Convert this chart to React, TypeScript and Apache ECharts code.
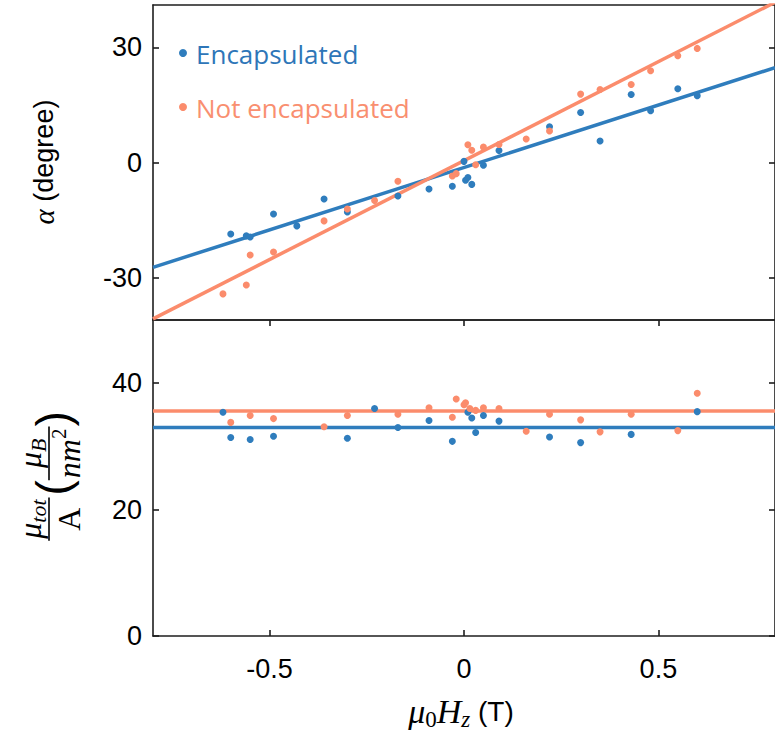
import React, { useEffect, useRef } from "react";
import * as echarts from "echarts";

// ---------- data ----------
const X_MIN = -0.8;
const X_MAX = 0.8;
const xTicks = [-0.5, 0, 0.5];
const alphaTicks = [-30, 0, 30];
const muTicks = [0, 20, 40];

// top panel: alpha (degree)
const encAlphaX = [-0.6, -0.56, -0.55, -0.49, -0.43, -0.36, -0.3, -0.17, -0.09, -0.03, 0.0, 0.004, 0.01, 0.02, 0.05, 0.09, 0.22, 0.3, 0.35, 0.43, 0.48, 0.55, 0.6];
const encAlphaY = [-18.6, -19.1, -19.4, -13.4, -16.5, -9.5, -12.9, -8.7, -6.9, -6.2, 0.3, -4.6, -3.9, -5.7, -0.7, 3.1, 9.3, 13.0, 5.6, 17.7, 13.5, 19.2, 17.4];
const notAlphaX = [-0.62, -0.56, -0.55, -0.49, -0.36, -0.3, -0.23, -0.17, -0.03, -0.02, 0.01, 0.02, 0.03, 0.05, 0.09, 0.16, 0.22, 0.3, 0.35, 0.43, 0.48, 0.55, 0.6];
const notAlphaY = [-34.2, -31.9, -24.1, -23.3, -15.2, -12.1, -9.9, -4.9, -3.5, -2.9, 4.6, 3.2, -0.6, 4.0, 4.7, 6.1, 8.2, 17.8, 19.0, 20.3, 23.9, 27.8, 29.7];
// linear fits [slope, intercept]
const encAlphaFit = [32.5, -1.3];
const notAlphaFit = [51.5, 0.5];

// bottom panel: mu_tot / A
const encMuX = [-0.62, -0.6, -0.55, -0.49, -0.3, -0.23, -0.17, -0.09, -0.03, 0.01, 0.02, 0.03, 0.05, 0.09, 0.22, 0.3, 0.43, 0.6];
const encMuY = [35.4, 31.4, 31.1, 31.6, 31.3, 36.0, 33.0, 34.1, 30.8, 35.4, 34.5, 32.2, 34.9, 34.0, 31.5, 30.6, 31.9, 35.5];
const notMuX = [-0.6, -0.55, -0.49, -0.36, -0.3, -0.17, -0.09, -0.03, -0.02, 0.0, 0.004, 0.015, 0.03, 0.05, 0.09, 0.16, 0.22, 0.3, 0.35, 0.43, 0.55, 0.6];
const notMuY = [33.8, 34.9, 34.4, 33.1, 34.9, 35.1, 36.1, 34.6, 37.5, 36.6, 36.9, 36.0, 35.7, 36.1, 36.0, 32.4, 35.1, 34.2, 32.3, 35.1, 32.5, 38.4];
const encMuMean = 33.0;
const notMuMean = 35.6;

const seriesNames = ["Encapsulated", "Not encapsulated"];

// ---------- styles ----------
const BLUE = "#2f7dbd";
const ORANGE = "#fb8c6c";
const BLUE_TEXT = "#2e76b8";
const ORANGE_TEXT = "#f98f70";
const AXIS = "#1e1e1e";
const SANS = '"Liberation Sans", Arial, sans-serif';
const SERIF = '"Liberation Serif", "DejaVu Serif", serif';

const zip = (xs: number[], ys: number[]) => xs.map((x, i) => [x, ys[i]]);
const fitLine = (f: number[]) => [X_MIN, X_MAX].map((x) => [x, f[0] * x + f[1]]);
const flatLine = (v: number) => [X_MIN, X_MAX].map((x) => [x, v]);

let measureCtx: CanvasRenderingContext2D | null = null;
function measure(text: string, font: string) {
  if (!measureCtx) measureCtx = document.createElement("canvas").getContext("2d");
  measureCtx!.font = font;
  return measureCtx!.measureText(text).width;
}

type Part = { t: string; size: number; family: string; italic?: boolean; dy?: number };
const fontOf = (p: Part) => `${p.italic ? "italic " : ""}${p.size}px ${p.family}`;

function runWidth(parts: Part[]) {
  return parts.reduce((s, p) => s + measure(p.t, fontOf(p)), 0);
}
function layoutRun(parts: Part[], x0: number, y0: number, fill = "#000") {
  const els: any[] = [];
  let x = x0;
  for (const p of parts) {
    els.push({
      type: "text",
      x,
      y: y0 + (p.dy || 0),
      style: { text: p.t, font: fontOf(p), fill, align: "left", verticalAlign: "middle" },
    });
    x += measure(p.t, fontOf(p));
  }
  return { els, end: x };
}

function buildMuLabel() {
  const els: any[] = [];
  let lx = 0;
  const frac = (num: Part[], den: Part[]) => {
    const nw = runWidth(num);
    const dw = runWidth(den);
    const bw = Math.max(nw, dw) + 4;
    els.push(...layoutRun(num, lx + (bw - nw) / 2, -19).els);
    els.push(...layoutRun(den, lx + (bw - dw) / 2, 20).els);
    els.push({ type: "line", shape: { x1: lx, y1: 0, x2: lx + bw, y2: 0 }, style: { stroke: "#000", lineWidth: 1.6 } });
    lx += bw;
  };
  const paren = (t: string) => {
    const p: Part = { t, size: 46, family: SANS, dy: 4 };
    const r = layoutRun([p], lx, 0);
    els.push(...r.els);
    lx = r.end;
  };
  frac(
    [{ t: "μ", size: 32, family: SERIF, italic: true }, { t: "tot", size: 22, family: SERIF, italic: true, dy: 8 }],
    [{ t: "A", size: 32, family: SERIF }]
  );
  lx += 2;
  paren("(");
  frac(
    [{ t: "μ", size: 32, family: SERIF, italic: true }, { t: "B", size: 22, family: SERIF, italic: true, dy: 8 }],
    [{ t: "nm", size: 32, family: SERIF, italic: true }, { t: "2", size: 21, family: SERIF, dy: -10 }]
  );
  paren(")");
  return { type: "group", x: 49, y: 476, rotation: Math.PI / 2, children: [{ type: "group", x: -lx / 2, y: 0, children: els }] };
}

function buildAlphaLabel() {
  const parts: Part[] = [
    { t: "α", size: 29, family: SERIF, italic: true },
    { t: " (degree)", size: 27, family: SANS },
  ];
  const w = runWidth(parts);
  return { type: "group", x: 44, y: 162, rotation: Math.PI / 2, children: layoutRun(parts, -w / 2, 0).els };
}

function buildXLabel() {
  const parts: Part[] = [
    { t: "μ", size: 34, family: SERIF, italic: true },
    { t: "0", size: 23, family: SERIF, dy: 8 },
    { t: "H", size: 34, family: SERIF, italic: true },
    { t: "z", size: 23, family: SERIF, italic: true, dy: 8 },
    { t: " (T)", size: 28, family: SANS },
  ];
  const w = runWidth(parts);
  return { type: "group", x: 461, y: 711, children: layoutRun(parts, -w / 2, 0).els };
}

function buildLegend() {
  const items = [
    { name: seriesNames[0], color: BLUE, text: BLUE_TEXT, y: 53 },
    { name: seriesNames[1], color: ORANGE, text: ORANGE_TEXT, y: 107 },
  ];
  const els: any[] = [];
  for (const it of items) {
    els.push({ type: "circle", shape: { cx: 183, cy: it.y, r: 4 }, style: { fill: it.color } });
    els.push({
      type: "text",
      x: 196,
      y: it.y + 1,
      style: { text: it.name, font: '26px "Open Sans", sans-serif', fill: it.text, align: "left", verticalAlign: "middle" },
    });
  }
  return els;
}

const axisLine = { show: true, onZero: false, lineStyle: { color: AXIS, width: 1.6 } };
const tickStyle = (vals: number[]) => ({ show: true, inside: true, length: 6, customValues: vals, lineStyle: { color: AXIS, width: 1.6 } });
const noTick = { show: false };
const noLabel = { show: false };
const labelStyle = (vals: number[], margin: number) => ({
  show: true,
  customValues: vals,
  margin,
  color: "#000",
  fontSize: 27,
  fontFamily: SANS,
  formatter: (v: number) => String(v),
});

export default function App() {
  const ref = useRef<HTMLDivElement>(null);
  useEffect(() => {
    if (!ref.current) return;
    const chart = echarts.init(ref.current, undefined, { renderer: "svg" });
    const grid0 = { left: 153, right: -7, top: 5, height: 315 };
    const grid1 = { left: 153, right: -7, top: 320, height: 316 };
    const xBase = { type: "value", min: X_MIN, max: X_MAX, splitLine: { show: false }, axisLine };
    const scatter = (name: string, data: number[][], color: string, xi: number, yi: number) => ({
      name,
      type: "scatter",
      xAxisIndex: xi,
      yAxisIndex: yi,
      data,
      symbol: "circle",
      symbolSize: 7,
      itemStyle: { color, opacity: 1 },
      z: 3,
      silent: true,
    });
    const line = (name: string, data: number[][], color: string, xi: number, yi: number) => ({
      name,
      type: "line",
      xAxisIndex: xi,
      yAxisIndex: yi,
      data,
      showSymbol: false,
      symbol: "none",
      lineStyle: { color, width: 3.5 },
      z: 2,
      silent: true,
    });
    const yBase = { type: "value", splitLine: { show: false }, axisLine };
    chart.setOption({
      animation: false,
      backgroundColor: "#fff",
      grid: [grid0, grid1],
      xAxis: [
        { ...xBase, gridIndex: 0, position: "bottom", axisTick: noTick, axisLabel: noLabel },
        { ...xBase, gridIndex: 0, position: "top", axisTick: noTick, axisLabel: noLabel },
        { ...xBase, gridIndex: 1, position: "bottom", axisTick: tickStyle(xTicks), axisLabel: labelStyle(xTicks, 19) },
        { ...xBase, gridIndex: 1, position: "top", axisTick: tickStyle(xTicks), axisLabel: noLabel },
      ],
      yAxis: [
        { ...yBase, gridIndex: 0, min: -41, max: 41, position: "left", axisTick: tickStyle(alphaTicks), axisLabel: labelStyle(alphaTicks, 11) },
        { ...yBase, gridIndex: 0, min: -41, max: 41, position: "right", axisTick: tickStyle(alphaTicks), axisLabel: noLabel },
        { ...yBase, gridIndex: 1, min: 0, max: 50, position: "left", axisTick: tickStyle(muTicks), axisLabel: labelStyle(muTicks, 11) },
        { ...yBase, gridIndex: 1, min: 0, max: 50, position: "right", axisTick: tickStyle(muTicks), axisLabel: noLabel },
      ],
      series: [
        line(seriesNames[0], fitLine(encAlphaFit), BLUE, 0, 0),
        line(seriesNames[1], fitLine(notAlphaFit), ORANGE, 0, 0),
        scatter(seriesNames[0], zip(encAlphaX, encAlphaY), BLUE, 0, 0),
        scatter(seriesNames[1], zip(notAlphaX, notAlphaY), ORANGE, 0, 0),
        line(seriesNames[0], flatLine(encMuMean), BLUE, 2, 2),
        line(seriesNames[1], flatLine(notMuMean), ORANGE, 2, 2),
        scatter(seriesNames[0], zip(encMuX, encMuY), BLUE, 2, 2),
        scatter(seriesNames[1], zip(notMuX, notMuY), ORANGE, 2, 2),
      ],
      graphic: [...buildLegend(), buildAlphaLabel(), buildMuLabel(), buildXLabel()],
    });
    return () => chart.dispose();
  }, []);
  return <div ref={ref} style={{ position: "fixed", left: 0, top: 0, width: 775, height: 737 }} />;
}
